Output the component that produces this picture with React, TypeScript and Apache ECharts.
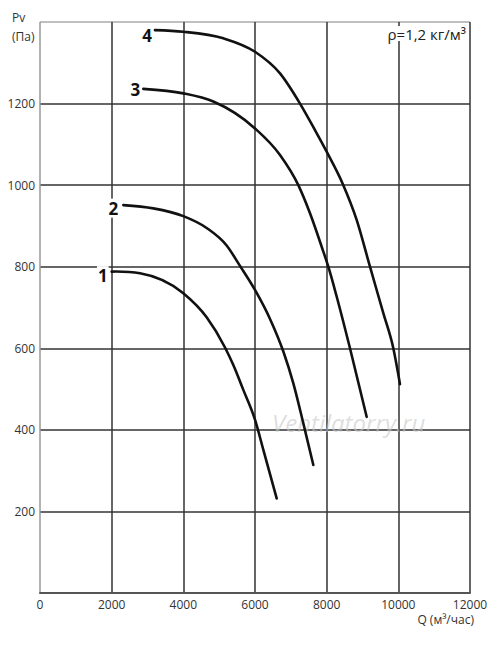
import React, { useEffect, useRef } from "react";
import * as echarts from "echarts";

const xTicks = [0, 2000, 4000, 6000, 8000, 10000, 12000];
const yTickLabels = [200, 400, 600, 800, 1000, 1200];

const curve1: [number, number][] = [
  [2000, 788], [2791, 784], [4000, 735], [4651, 676], [5163, 602],
  [5395, 559], [5674, 498], [6000, 425], [6233, 351], [6605, 232],
];
const curve2: [number, number][] = [
  [2326, 951], [3163, 943], [4000, 924], [4651, 895], [5209, 852], [5581, 802],
  [6000, 743], [6419, 672], [6791, 592], [7070, 514], [7349, 416], [7628, 314],
];
const curve3: [number, number][] = [
  [2884, 1236], [4000, 1225], [4837, 1205], [6000, 1139], [6698, 1074], [7209, 1000],
  [7535, 931], [7861, 849], [8046, 800], [8279, 727], [8651, 600], [9116, 432],
];
const curve4: [number, number][] = [
  [3209, 1380], [4000, 1376], [5116, 1360], [6000, 1327], [6698, 1274], [7256, 1200],
  [7674, 1135], [8000, 1082], [8465, 1000], [8837, 915], [9209, 800], [9581, 686],
  [9860, 600], [10046, 512],
];
const curveNames = ["1", "2", "3", "4"];
const curves = [curve1, curve2, curve3, curve4];

const labelDx = [-3, -4, -2, -2];
const labelDy = [4, 3, 1, 5];

const FONT = "'Open Sans', 'Noto Sans', sans-serif";

// monotone cubic Hermite through pixel points (x increasing)
function smoothPath(pts: number[][]): string {
  const n = pts.length;
  if (n < 2) return "";
  const h: number[] = [];
  const d: number[] = [];
  for (let i = 0; i < n - 1; i++) {
    h.push(pts[i + 1][0] - pts[i][0]);
    d.push((pts[i + 1][1] - pts[i][1]) / h[i]);
  }
  const m: number[] = new Array(n);
  m[0] = d[0];
  m[n - 1] = d[n - 2];
  for (let i = 1; i < n - 1; i++) {
    if (d[i - 1] * d[i] <= 0) m[i] = 0;
    else m[i] = (d[i - 1] * h[i] + d[i] * h[i - 1]) / (h[i - 1] + h[i]);
  }
  if (n > 2) {
    m[0] = d[0] - (m[1] - d[0]) * 0.5;
    m[n - 1] = d[n - 2] + (d[n - 2] - m[n - 2]) * 0.5;
  }
  for (let i = 0; i < n - 1; i++) {
    if (d[i] === 0) { m[i] = 0; m[i + 1] = 0; continue; }
    const a = m[i] / d[i];
    const b = m[i + 1] / d[i];
    if (a < 0) m[i] = 0;
    if (b < 0) m[i + 1] = 0;
    const s = a * a + b * b;
    if (s > 9) {
      const t = 3 / Math.sqrt(s);
      m[i] = t * a * d[i];
      m[i + 1] = t * b * d[i];
    }
  }
  let path = `M${pts[0][0]},${pts[0][1]}`;
  for (let i = 0; i < n - 1; i++) {
    const x0 = pts[i][0], y0 = pts[i][1];
    const x1 = pts[i + 1][0], y1 = pts[i + 1][1];
    const hh = h[i] / 3;
    path += ` C${x0 + hh},${y0 + m[i] * hh} ${x1 - hh},${y1 - m[i + 1] * hh} ${x1},${y1}`;
  }
  return path;
}

export default function App() {
  const ref = useRef<HTMLDivElement>(null);
  useEffect(() => {
    if (!ref.current) return;
    const chart = echarts.init(ref.current, undefined, { renderer: "svg" });
    const series = curves.map((c, i) => ({
      type: "custom",
      name: curveNames[i],
      coordinateSystem: "cartesian2d",
      encode: { x: 0, y: 1 },
      data: c,
      z: 5,
      renderItem: (params: any, api: any) => {
        if (params.dataIndex !== 0) return null;
        const pts = c.map((p) => api.coord(p));
        return {
          type: "group",
          children: [
            {
              type: "path",
              shape: { pathData: smoothPath(pts) },
              style: { stroke: "#111", lineWidth: 2.6, fill: null, lineCap: "round" },
            },
            {
              type: "text",
              x: pts[0][0] + labelDx[i],
              y: pts[0][1] + labelDy[i],
              style: {
                text: curveNames[i],
                font: `bold 17px ${FONT}`,
                fill: "#111",
                align: "right",
                verticalAlign: "middle",
                backgroundColor: "#fff",
                padding: [1, 1, 1, 1],
              },
            },
          ],
        };
      },
    }));
    chart.setOption({
      animation: false,
      grid: { left: 40, top: 22, right: 30, bottom: 52, containLabel: false },
      xAxis: {
        type: "value",
        min: 0,
        max: 12000,
        interval: 2000,
        axisLine: { show: true, lineStyle: { color: "#555", width: 2 } },
        axisTick: { show: false },
        axisLabel: {
          color: "#333",
          fontSize: 12,
          fontFamily: FONT,
          margin: 5,
          formatter: (v: number) => (xTicks.includes(v) ? String(v) : ""),
        },
        splitLine: {
          show: true,
          lineStyle: { color: ["#999", "#333", "#333", "#333", "#333", "#333", "#333"], width: 1.5 },
        },
      },
      yAxis: {
        type: "value",
        min: 0,
        max: 1400,
        interval: 200,
        axisLine: { show: false },
        axisTick: { show: false },
        axisLabel: {
          color: "#333",
          fontSize: 12,
          fontFamily: FONT,
          margin: 5,
          formatter: (v: number) => (yTickLabels.includes(v) ? String(v) : ""),
        },
        splitLine: {
          show: true,
          lineStyle: { color: ["#555", "#333", "#333", "#333", "#333", "#333", "#333", "#aaa"], width: 1.5 },
        },
      },
      graphic: [
        {
          type: "text",
          left: 12,
          top: 8,
          style: {
            text: "Pv\n(Па)",
            fill: "#333",
            font: `12px ${FONT}`,
            lineHeight: 19,
            align: "center",
          },
        },
        {
          type: "text",
          right: 26,
          top: 613,
          style: { text: "Q (м³/час)", fill: "#333", font: `12px ${FONT}` },
        },
        {
          type: "text",
          right: 32,
          top: 26,
          style: {
            text: "ρ=1,2 кг/м³",
            fill: "#222",
            font: `15px ${FONT}`,
            backgroundColor: "#fff",
            padding: [0, 2, 0, 2],
          },
          z: 10,
        },
        {
          type: "text",
          left: 272,
          top: 410,
          style: {
            text: "Ventilatorry.ru",
            fill: "rgba(200,200,200,0.6)",
            font: `italic 24px ${FONT}`,
          },
          z: 1,
        },
      ],
      series,
    });
    return () => chart.dispose();
  }, []);
  return (
    <div
      ref={ref}
      style={{ position: "fixed", left: 0, top: 0, width: 500, height: 645, background: "#fff" }}
    />
  );
}
